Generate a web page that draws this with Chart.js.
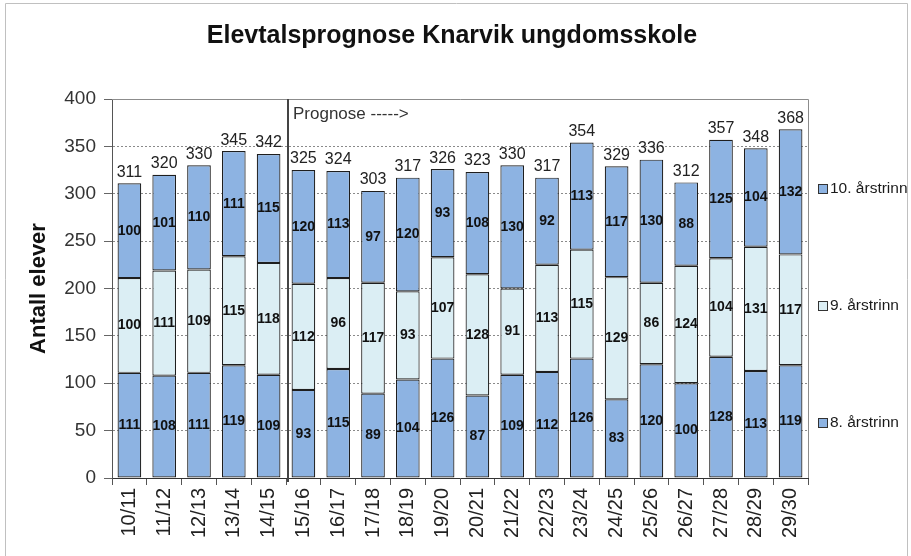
<!DOCTYPE html>
<html><head><meta charset="utf-8">
<script src="https://cdn.jsdelivr.net/npm/chart.js@4/dist/chart.umd.min.js"></script>
<style>html,body{margin:0;padding:0;background:#fff;} canvas{display:block;}</style>
</head><body>
<canvas id="c" width="911" height="556"></canvas>
<script>
const categories = ['10/11','11/12','12/13','13/14','14/15','15/16','16/17','17/18','18/19','19/20','20/21','21/22','22/23','23/24','24/25','25/26','26/27','27/28','28/29','29/30'];
const trinn8  = [111,108,111,119,109, 93,115, 89,104,126, 87,109,112,126, 83,120,100,128,113,119];
const trinn9  = [100,111,109,115,118,112, 96,117, 93,107,128, 91,113,115,129, 86,124,104,131,117];
const trinn10 = [100,101,110,111,115,120,113, 97,120, 93,108,130, 92,113,117,130, 88,125,104,132];
const seriesNames = ['8. årstrinn','9. årstrinn','10. årstrinn'];
const yTicks = [0,50,100,150,200,250,300,350,400];
const titleText = 'Elevtalsprognose Knarvik ungdomsskole';
const yTitleText = 'Antall elever';
const prognoseText = 'Prognose ----->';
const prognoseStartIndex = 5;

const FONT = "'Liberation Sans', Arial, Helvetica, sans-serif";
const BLUE = '#8db3e2';
const LIGHT = '#dbeef4';
const EDGE = '#1e1e1e';

const overlay = {
  id: 'overlay',
  afterDatasetsDraw(chart) {
    const ctx = chart.ctx;
    const n = chart.data.datasets.length;
    ctx.save();
    ctx.font = 'bold 14px ' + FONT;
    ctx.fillStyle = '#111';
    ctx.textAlign = 'center';
    ctx.textBaseline = 'middle';
    for (let d = 0; d < n; d++) {
      const meta = chart.getDatasetMeta(d);
      meta.data.forEach((bar, i) => {
        const v = chart.data.datasets[d].data[i];
        ctx.fillText(String(v), bar.x, (bar.y + bar.base) / 2);
      });
    }
    ctx.font = '16px ' + FONT;
    ctx.fillStyle = '#222';
    ctx.textBaseline = 'bottom';
    const top = chart.getDatasetMeta(n - 1);
    top.data.forEach((bar, i) => {
      let t = 0;
      for (let d = 0; d < n; d++) t += chart.data.datasets[d].data[i];
      ctx.fillText(String(t), bar.x, bar.y - 3);
    });
    ctx.restore();
  },
  afterDraw(chart) {
    const ctx = chart.ctx;
    const a = chart.chartArea;
    const xs = chart.scales.x;
    ctx.save();
    ctx.strokeStyle = '#c0c0c0';
    ctx.lineWidth = 1;
    ctx.beginPath();
    ctx.moveTo(5.5, 556); ctx.lineTo(5.5, 3.5); ctx.lineTo(907.5, 3.5); ctx.lineTo(907.5, 556);
    ctx.stroke();
    ctx.strokeStyle = '#8c8c8c';
    ctx.beginPath();
    ctx.moveTo(a.left, a.top + 0.5); ctx.lineTo(a.right + 0.5, a.top + 0.5); ctx.lineTo(a.right + 0.5, a.bottom);
    ctx.stroke();
    const sx = Math.round(xs.getPixelForValue(prognoseStartIndex - 0.5)) + 2;
    ctx.strokeStyle = '#444';
    ctx.lineWidth = 2;
    ctx.beginPath();
    ctx.moveTo(sx, a.top); ctx.lineTo(sx, a.bottom + 4);
    ctx.stroke();
    ctx.font = '17px ' + FONT;
    ctx.fillStyle = '#333';
    ctx.textAlign = 'left';
    ctx.textBaseline = 'middle';
    ctx.fillText(prognoseText, sx + 5, a.top + 15);
    ctx.font = 'bold 25px ' + FONT;
    ctx.fillStyle = '#111';
    ctx.textAlign = 'center';
    ctx.textBaseline = 'alphabetic';
    ctx.fillText(titleText, 452, 43);
    const legendY = [423, 306, 189];
    ctx.font = '15.5px ' + FONT;
    ctx.textBaseline = 'middle';
    ctx.textAlign = 'left';
    chart.data.datasets.forEach((ds, d) => {
      const y = legendY[d];
      ctx.fillStyle = ds.backgroundColor;
      ctx.fillRect(818.5, y - 4.5, 9, 9);
      ctx.strokeStyle = '#333';
      ctx.lineWidth = 1;
      ctx.strokeRect(818.5, y - 4.5, 9, 9);
      ctx.fillStyle = '#1a1a1a';
      ctx.fillText(ds.label, 830, y);
    });
    ctx.restore();
  }
};

new Chart(document.getElementById('c'), {
  type: 'bar',
  data: {
    labels: categories,
    datasets: [
      { label: seriesNames[0], data: trinn8,  backgroundColor: BLUE,  borderColor: EDGE, borderWidth: 1.2, borderSkipped: false },
      { label: seriesNames[1], data: trinn9,  backgroundColor: LIGHT, borderColor: EDGE, borderWidth: 1.2, borderSkipped: false },
      { label: seriesNames[2], data: trinn10, backgroundColor: BLUE,  borderColor: EDGE, borderWidth: 1.2, borderSkipped: false }
    ]
  },
  options: {
    responsive: false,
    animation: false,
    devicePixelRatio: 1,
    layout: { padding: { left: 10, right: 103, top: 99, bottom: 0 } },
    plugins: { legend: { display: false }, title: { display: false }, tooltip: { enabled: false } },
    datasets: { bar: { categoryPercentage: 1, barPercentage: 0.68 } },
    scales: {
      x: {
        stacked: true,
        grid: { display: true, drawOnChartArea: false, drawTicks: true, tickLength: 7, color: '#555', tickColor: '#555', offset: true },
        border: { display: true, color: '#333', width: 1 },
        ticks: { minRotation: 90, maxRotation: 90, autoSkip: false, padding: 3, color: '#222', font: { family: FONT, size: 20 } },
        afterFit(s) { s.height = 78; }
      },
      y: {
        stacked: true,
        min: 0, max: 400,
        afterBuildTicks(s) { s.ticks = yTicks.map(v => ({ value: v })); },
        grid: { color: '#8a8a8a', tickColor: '#666', tickLength: 8, lineWidth: 1 },
        border: { display: true, color: '#555', width: 1, dash: [2, 2] },
        ticks: { padding: 8, color: '#333', font: { family: FONT, size: 19 } },
        title: { display: true, text: yTitleText, color: '#111', font: { family: FONT, size: 22, weight: 'bold' }, padding: { top: 16, bottom: 0 } },
        afterFit(s) { s.width = 102; }
      }
    }
  },
  plugins: [overlay]
});
</script>
</body></html>
